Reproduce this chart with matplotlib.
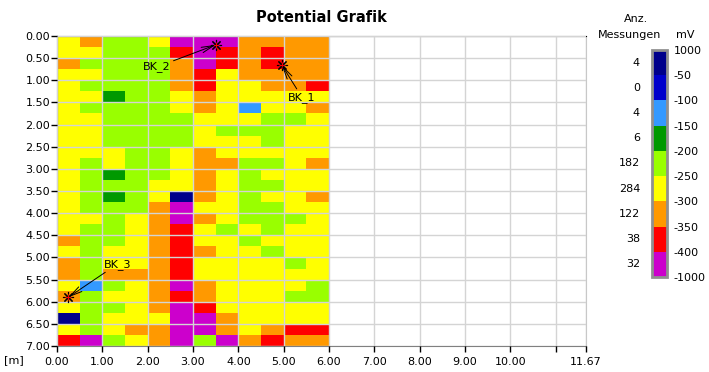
import numpy as np
import matplotlib
matplotlib.use('Agg')
import matplotlib.pyplot as plt
from matplotlib.colors import ListedColormap, BoundaryNorm
from matplotlib.cm import ScalarMappable

#### Data
# one string per 0.25 m row, one letter per 0.5 m column
# P=purple R=red O=orange Y=yellow G=green D=dark green B=light blue N=navy
rows = [
    "YOGGYPPPOOOO",
    "YYGGGRPROROO",
    "OGGGGOPROROO",
    "YYGGGORYOOOO",
    "YGGGGORYYOOR",
    "YYDGGYOYYYYY",
    "YGGGGYOYBYYO",
    "YYGGGGYYYGGY",
    "YYGGGGYGGGYY",
    "YYGGGGYYYGYY",
    "YYYGGYOYYYYY",
    "YGYGGYOOGGYO",
    "YGDGGYOYGYYY",
    "YGGGYYOYGGYY",
    "YGDGYNOYGYYO",
    "YGGGOPYYGGYY",
    "YYGYOPOYGGGY",
    "YGGYORYGYGYY",
    "OGGYORYYGYYY",
    "YGYYOROYYGYY",
    "OGYYORYYYYGY",
    "OGOOORYYYYYY",
    "YBGYOPOYYYYG",
    "OGYYOROYYYGG",
    "YGGYOPRYYYYY",
    "NGYYYPPOYYYY",
    "YGYOOPPOYORR",
    "RPGYOPGPOROO",
]
class_codes = "PROYGDBKN"   # low to high potential (K = blue, not present)
bounds_mv   = [-1000, -400, -350, -300, -250, -200, -150, -100, -50, 1000]
counts      = [32, 38, 122, 284, 182, 6, 4, 0, 4]
colors      = ['#CC00CC', '#FF0000', '#FF9900', '#FFFF00', '#99FF00',
               '#009900', '#3399FF', '#0000CC', '#00008B']

cell_w, cell_h = 0.5, 0.25
probes = {'BK_1': (4.96, 0.66), 'BK_2': (3.50, 0.20), 'BK_3': (0.25, 5.90)}
labels = {'BK_1': (5.10, 1.38), 'BK_2': (1.90, 0.70), 'BK_3': (1.03, 5.15)}

#### Figure
plt.rcParams['font.family'] = 'DejaVu Sans'
fig = plt.figure(figsize=(7.09, 3.72), dpi=100)
ax = fig.add_axes([57/709, 1-346/372, 529/709, 310/372])

grid = np.array([[class_codes.index(c) for c in r] for r in rows])
xe = np.arange(grid.shape[1] + 1) * cell_w
ye = np.arange(grid.shape[0] + 1) * cell_h
cmap = ListedColormap(colors)
norm = BoundaryNorm(np.arange(len(colors) + 1) - 0.5, cmap.N)
ax.pcolormesh(xe, ye, grid, cmap=cmap, norm=norm, zorder=1)

ax.set_xlim(0, 11.67)
ax.set_ylim(7, 0)
xt = list(range(0, 12)) + [11.67]
ax.set_xticks(xt)
ax.set_xticklabels(['%.2f' % v if v != 11 else '' for v in xt])
yt = np.arange(0, 7.01, 0.5)
ax.set_yticks(yt)
ax.set_yticklabels(['%.2f' % v for v in yt])
ax.tick_params(labelsize=8, length=4, width=1, direction='out', pad=1)
ax.tick_params(axis='x', pad=4)
ax.grid(True, color='#d4d4d4', lw=1, zorder=2)
ax.set_axisbelow(False)
for s in ['top', 'left']:
    ax.spines[s].set_color('black')
ax.spines['bottom'].set_color('#808080')
ax.spines['right'].set_color('#c8c8c8')

for name, (px, py) in probes.items():
    ax.plot(px, py, marker=(8, 2, 0), ms=8, mew=0.8, color='black', zorder=4)
    ax.plot(px, py, marker='+', ms=4, mew=0.8, color='red', zorder=4)
    tx, ty = labels[name]
    ax.annotate(name, xy=(px, py), xytext=(tx, ty), fontsize=8, zorder=5,
                ha='left', va='center',
                arrowprops=dict(arrowstyle='->,head_length=1.1,head_width=0.25',
                                color='black', lw=0.7, shrinkA=0, shrinkB=0))

fig.text(321.5/709, 1-18/372, 'Potential Grafik', ha='center', va='center',
         fontsize=10.5, fontweight='bold')
fig.text(14/709, 1-360/372, '[m]', ha='center', va='center', fontsize=8)

#### Legend bar
cax = fig.add_axes([652/709, 1-277/372, 15/709, 227/372])
mv_cmap = ListedColormap(colors)
mv_norm = BoundaryNorm(bounds_mv, mv_cmap.N)
cb = fig.colorbar(ScalarMappable(norm=mv_norm, cmap=mv_cmap), cax=cax,
                  boundaries=bounds_mv, spacing='uniform', ticks=bounds_mv)
cb.set_ticklabels([str(b) for b in bounds_mv])
cb.outline.set_edgecolor('#909090')
cb.outline.set_linewidth(2)
cax.tick_params(length=0, labelsize=8, pad=5)
for i, n in enumerate(counts):
    cax.text(-0.8, (i + 0.5) / len(counts), str(n), transform=cax.transAxes,
             ha='right', va='center', fontsize=8)

fig.text(636/709, 1-19/372, 'Anz.', ha='center', va='center', fontsize=8)
fig.text(630/709, 1-35/372, 'Messungen', ha='center', va='center', fontsize=8)
fig.text(685/709, 1-35/372, 'mV', ha='center', va='center', fontsize=8)

fig.savefig('out.png', dpi=100)
